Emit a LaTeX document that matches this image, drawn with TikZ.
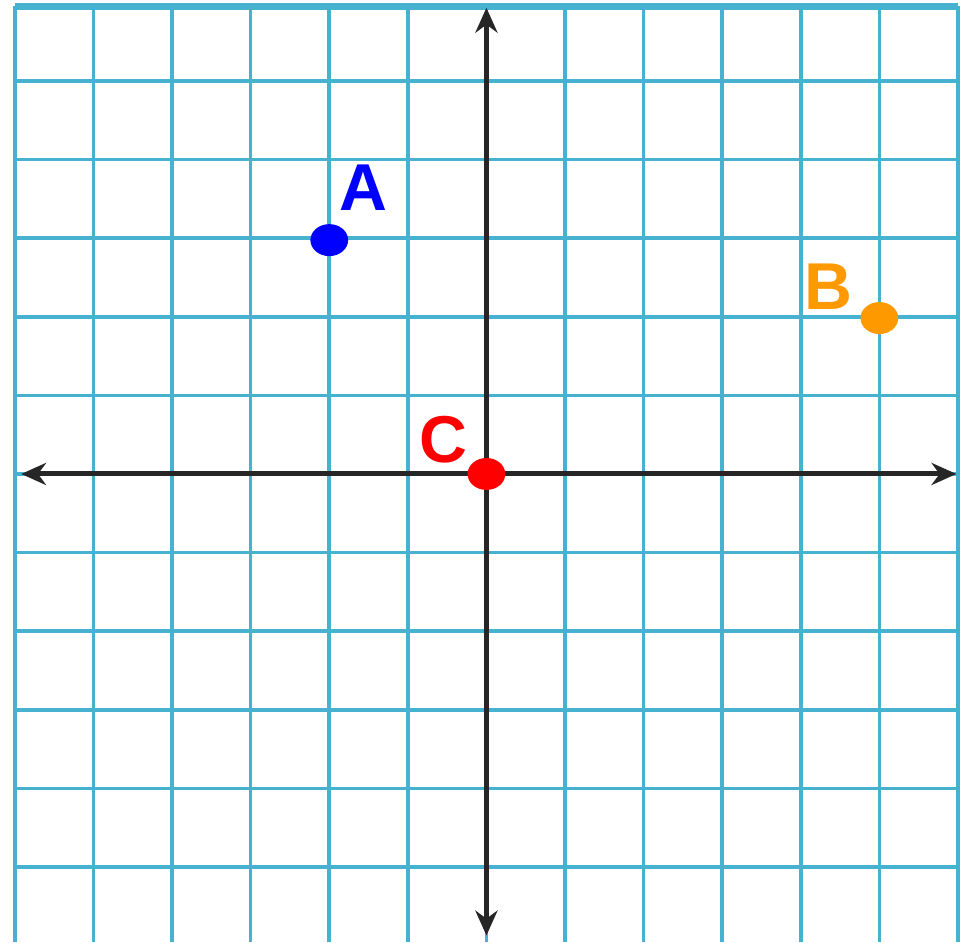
\documentclass[tikz,border=0pt]{standalone}
\usepackage{fontspec}
\setsansfont{Liberation Sans}
\usetikzlibrary{arrows.meta}
\definecolor{gridblue}{RGB}{70,178,208}
\definecolor{ptorange}{RGB}{255,153,0}
\tikzset{
  ptlabel/.style={font=\sffamily\bfseries\fontsize{24}{28}\selectfont},
  axis/.style={line width=1.8pt, black!85, {Stealth[length=9pt,width=8pt]}-{Stealth[length=9pt,width=8pt]}}
}
\begin{document}
\begin{tikzpicture}[x=1cm,y=0.992cm]
\useasboundingbox (-6.19,-6.01) rectangle (6.09,6.08);
\draw[gridblue, line width=1.3pt] (-6,-6) grid (6,6);
\draw[gridblue, line width=2.6pt] (-6,6) -- (6,6);

\coordinate (left) at (-5.92,0);
\coordinate (right) at (5.98,0);
\coordinate (top) at (0,5.98);
\coordinate (bottom) at (0,-5.92);
\draw[axis] (left) -- (right);
\draw[axis] (bottom) -- (top);

\fill[blue] (-2,3) ellipse (0.24 and 0.205);
\fill[ptorange] (5,2) ellipse (0.24 and 0.205);
\fill[red] (0,0) ellipse (0.24 and 0.205);

\node[ptlabel, blue] (A) at (-1.56,3.67) {A};
\node[ptlabel, ptorange] (B) at (4.35,2.40) {B};
\node[ptlabel, red] (C) at (-0.55,0.44) {C};
\end{tikzpicture}
\end{document}
